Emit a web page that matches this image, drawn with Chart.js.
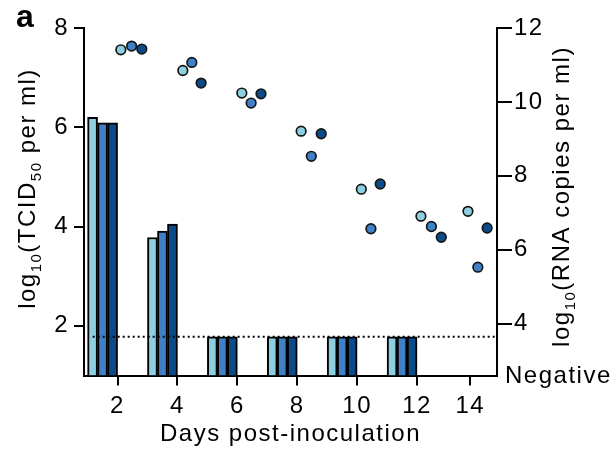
<!DOCTYPE html>
<html>
<head>
<meta charset="utf-8">
<script src="https://cdn.jsdelivr.net/npm/chart.js@4/dist/chart.umd.min.js"></script>
<style>
  html, body { margin: 0; padding: 0; background: #fff; }
  #wrap { width: 614px; height: 451px; }
</style>
</head>
<body>
<div id="wrap"><canvas id="virusChart" width="614" height="451"></canvas></div>
<script>
// infectious titre (bars, left axis), one group per sampling interval
const barDays = [1.5, 3.5, 5.5, 7.5, 9.5, 11.5];
const tcidA = [6.20, 3.78, 1.78, 1.78, 1.78, 1.78];
const tcidB = [6.09, 3.91, 1.78, 1.78, 1.78, 1.78];
const tcidC = [6.09, 4.05, 1.78, 1.78, 1.78, 1.78];
const detectionLimit = 1.78;
const limitSpan = [1.17, 14.67];

// RNA copies (points, right axis)
const rnaDaysA = [2.11, 4.18, 6.15, 8.13, 10.14, 12.13, 13.70];
const rnaA = [11.41, 10.85, 10.24, 9.21, 7.64, 6.91, 7.04];
const rnaDaysB = [2.47, 4.48, 6.46, 8.47, 10.46, 12.48, 14.03];
const rnaB = [11.51, 11.07, 9.97, 8.53, 6.57, 6.63, 5.53];
const rnaDaysC = [2.81, 4.79, 6.79, 8.80, 10.77, 12.81, 14.34];
const rnaC = [11.43, 10.51, 10.22, 9.14, 7.78, 6.34, 6.59];

const xTickValues = [2, 4, 6, 8, 10, 12, 13.78];
const xTickLabels = ['2', '4', '6', '8', '10', '12', '14'];
const leftTicks = [2, 4, 6, 8];
const rightTicks = [4, 6, 8, 10, 12];

const colLight = '#8ccfe0';
const colMid = '#3f80c6';
const colDark = '#0b4b8a';

const family = '"Liberation Sans", Arial, sans-serif';
const mainFont = '24px ' + family;
const subFont = '15px ' + family;

const pts = (xs, ys) => xs.map((x, i) => ({ x: x, y: ys[i] }));

function barSet(vals, color) {
  return {
    type: 'bar',
    data: pts(barDays, vals),
    backgroundColor: color,
    borderColor: '#000',
    borderWidth: 2,
    barThickness: 10,
    base: 1,
    yAxisID: 'y',
    order: 2
  };
}

function pointSet(xs, ys, color) {
  return {
    type: 'line',
    data: pts(xs, ys),
    showLine: false,
    pointRadius: 4.8,
    pointBackgroundColor: color,
    pointBorderColor: '#151515',
    pointBorderWidth: 1.7,
    yAxisID: 'y1',
    order: 0
  };
}

function richWidth(ctx, parts) {
  let w = 0;
  parts.forEach(p => {
    ctx.font = p.sub ? subFont : mainFont;
    w += ctx.measureText(p.t).width;
  });
  return w;
}

function drawRich(ctx, parts, x, y) {
  parts.forEach(p => {
    ctx.font = p.sub ? subFont : mainFont;
    ctx.fillText(p.t, x, y + (p.sub ? 6 : 0));
    x += ctx.measureText(p.t).width;
  });
}

const leftTitle = [{ t: 'log' }, { t: '10', sub: true }, { t: '(TCID' }, { t: '50', sub: true }, { t: ' per ml)' }];
const rightTitle = [{ t: 'log' }, { t: '10', sub: true }, { t: '(RNA copies per ml)' }];

const textPlugin = {
  id: 'axisText',
  beforeDraw(chart) {
    chart.ctx.letterSpacing = '1.5px';
  },
  afterDraw(chart) {
    const ctx = chart.ctx;
    const area = chart.chartArea;
    ctx.save();
    ctx.fillStyle = '#000';
    ctx.textBaseline = 'alphabetic';

    // vertical titles, reading bottom to top
    [[leftTitle, 35, 188.5], [rightTitle, 569, 196.5]].forEach(([parts, bx, cy]) => {
      const w = richWidth(ctx, parts);
      ctx.save();
      ctx.translate(bx, cy + w / 2);
      ctx.rotate(-Math.PI / 2);
      ctx.textAlign = 'left';
      drawRich(ctx, parts, 0, 0);
      ctx.restore();
    });

    ctx.font = mainFont;
    ctx.textAlign = 'center';
    ctx.fillText('Days post-inoculation', (area.left + area.right) / 2, 441);

    ctx.textAlign = 'left';
    ctx.fillText('Negative', area.right + 8, chart.scales.y1.getPixelForValue(chart.scales.y1.min) + 7);

    ctx.font = 'bold 32px ' + family;
    ctx.fillText('a', 16, 27);
    ctx.restore();
  }
};

const axisLine = { display: true, color: '#000', width: 2 };
const tickMarks = (len) => ({ drawOnChartArea: false, offset: false, color: '#000', lineWidth: 2, tickLength: len });
const tickFont = { family: family, size: 24 };

new Chart(document.getElementById('virusChart'), {
  type: 'bar',
  data: {
    datasets: [
      barSet(tcidA, colLight),
      barSet(tcidB, colMid),
      barSet(tcidC, colDark),
      {
        type: 'line',
        data: limitSpan.map(x => ({ x: x, y: detectionLimit })),
        borderColor: '#000',
        borderWidth: 2,
        borderDash: [2, 3],
        pointRadius: 0,
        yAxisID: 'y',
        order: 1
      },
      pointSet(rnaDaysA, rnaA, colLight),
      pointSet(rnaDaysB, rnaB, colMid),
      pointSet(rnaDaysC, rnaC, colDark)
    ]
  },
  options: {
    responsive: false,
    animation: false,
    layout: { padding: { top: 28, left: 0, right: 0, bottom: 0 } },
    plugins: { legend: { display: false }, tooltip: { enabled: false } },
    scales: {
      x: {
        type: 'linear',
        offset: false,
        min: 0.88,
        max: 14.67,
        border: axisLine,
        grid: tickMarks(10),
        ticks: {
          color: '#000', font: tickFont, padding: 6, maxRotation: 0, autoSkip: false,
          callback: (v, i) => xTickLabels[i]
        },
        afterBuildTicks: s => { s.ticks = xTickValues.map(v => ({ value: v })); },
        afterFit: s => { s.height = 75.5; }
      },
      y: {
        position: 'left',
        min: 1,
        max: 8,
        border: axisLine,
        grid: tickMarks(10),
        ticks: { color: '#000', font: tickFont, padding: 5 },
        afterBuildTicks: s => { s.ticks = leftTicks.map(v => ({ value: v })); },
        afterFit: s => { s.width = 84; }
      },
      y1: {
        position: 'right',
        min: 2.6,
        max: 12,
        border: axisLine,
        grid: tickMarks(15),
        ticks: { color: '#000', font: tickFont, padding: 2 },
        afterBuildTicks: s => { s.ticks = rightTicks.map(v => ({ value: v })); },
        afterFit: s => { s.width = 117; }
      }
    }
  },
  plugins: [textPlugin]
});
</script>
</body>
</html>
